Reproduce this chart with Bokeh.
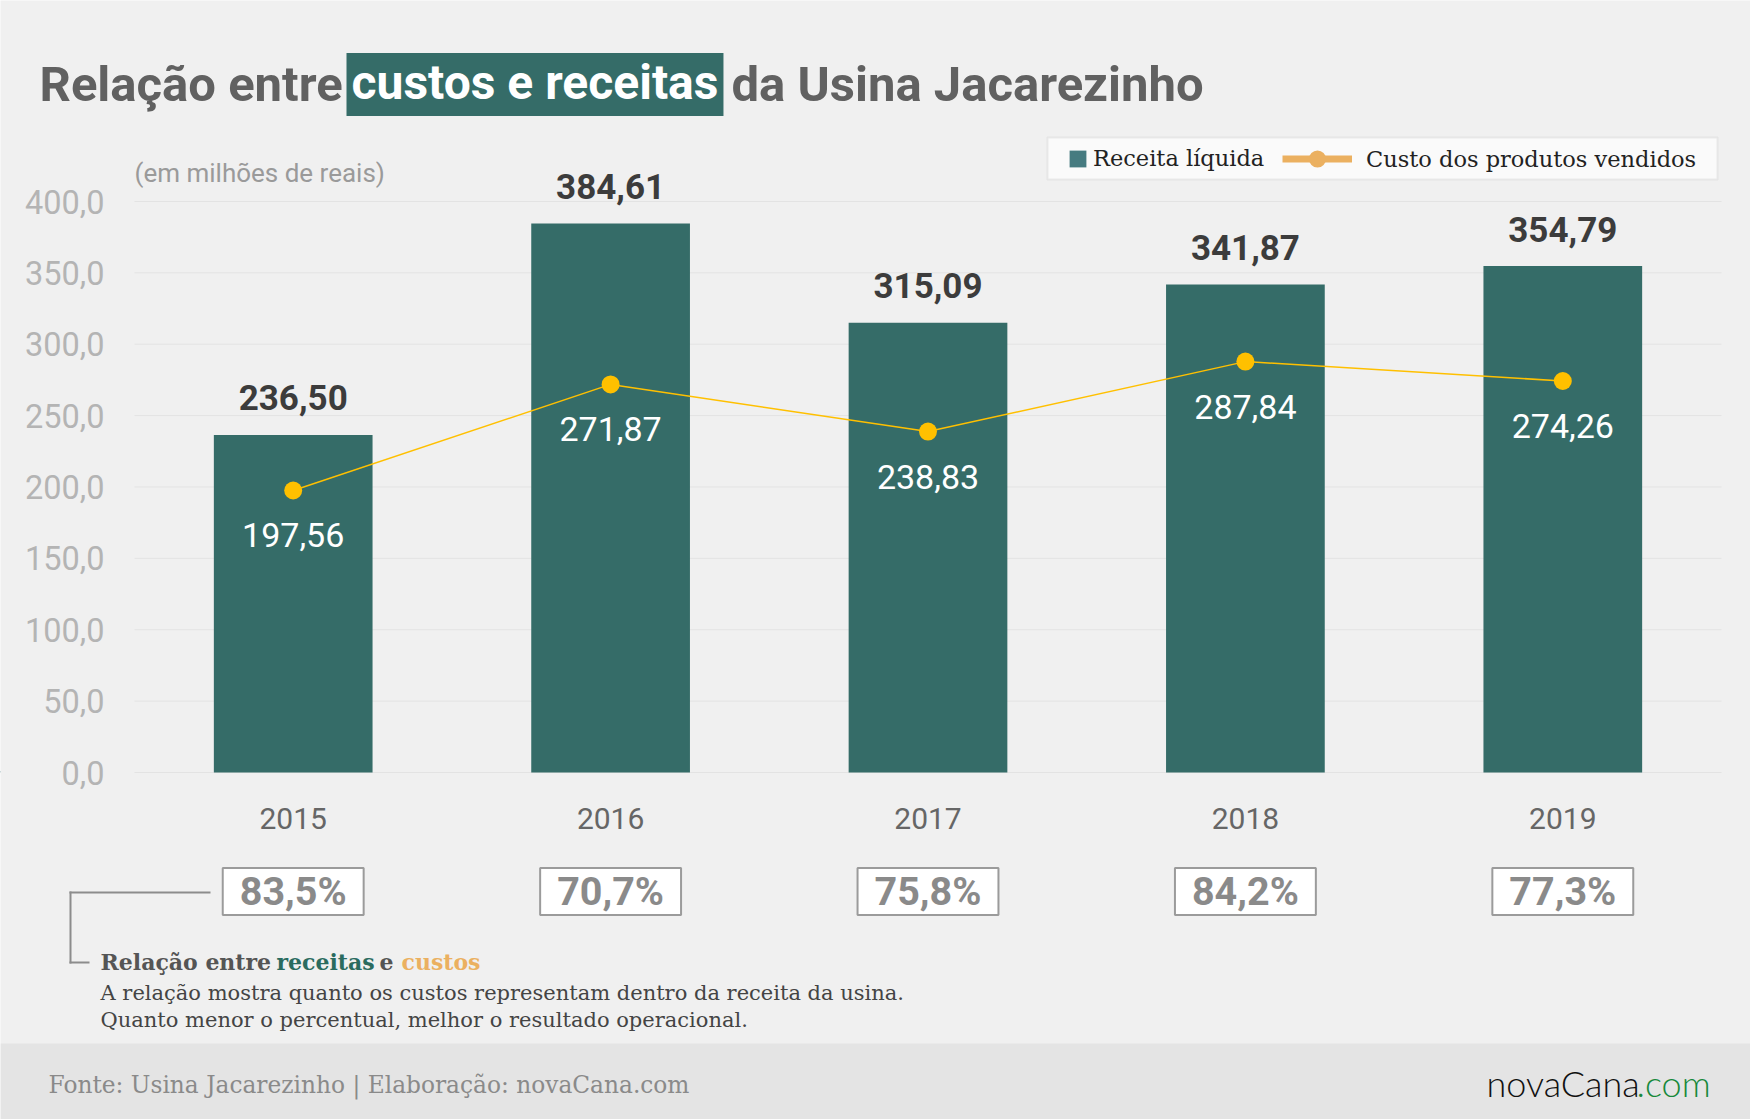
from bokeh.plotting import figure
from bokeh.models import Range1d, FixedTicker, Label, BoxAnnotation, Legend, LegendItem
from bokeh.core.properties import value
from bokeh.embed import file_html
from bokeh.resources import INLINE

years = ["2015", "2016", "2017", "2018", "2019"]
receita = [236.50, 384.61, 315.09, 341.87, 354.79]
custo = [197.56, 271.87, 238.83, 287.84, 274.26]
relacao = ["83,5%", "70,7%", "75,8%", "84,2%", "77,3%"]
y_ticks = [0, 50, 100, 150, 200, 250, 300, 350, 400]
y_tick_labels = ["0,0", "50,0", "100,0", "150,0", "200,0", "250,0", "300,0", "350,0", "400,0"]

xs = list(range(len(years)))
receita_txt = [f"{v:.2f}".replace(".", ",") for v in receita]
custo_txt = [f"{v:.2f}".replace(".", ",") for v in custo]

SANS = "Roboto"
SERIF = "DejaVu Serif"
TEAL = "#356c68"
GOLD = "#ffc000"
ORANGE = "#ebb060"

W, H = 1750, 1119
# plot area in page pixels: x -0.5 at 134, 4.5 at 1721; y 0 at 772, 400 at 201
PX_X = (1721 - 134) / 5.0
PX_Y = (772 - 201) / 400.0
x0 = -0.5 - 134 / PX_X
x1 = 4.5 + (W - 1721) / PX_X
y0 = -(H - 772) / PX_Y
y1 = 772 / PX_Y


def sy(py):
    return H - py


p = figure(width=W, height=H, x_range=Range1d(x0, x1), y_range=Range1d(y0, y1),
           output_backend="svg", toolbar_location=None, min_border=0)
p.background_fill_color = "#f0f0f0"
p.border_fill_color = "#f0f0f0"
p.outline_line_color = None
p.grid.visible = False

p.yaxis.ticker = FixedTicker(ticks=y_ticks)
p.yaxis.major_label_overrides = dict(zip(y_ticks, y_tick_labels))
p.yaxis.fixed_location = -0.5
p.xaxis.ticker = FixedTicker(ticks=xs)
p.xaxis.major_label_overrides = dict(zip(xs, years))
p.xaxis.fixed_location = 0

for ax in (p.xaxis[0], p.yaxis[0]):
    ax.axis_line_color = None
    ax.major_tick_line_color = None
    ax.minor_tick_line_color = None
    ax.major_tick_out = 0
    ax.major_tick_in = 0
    ax.major_label_text_font = SANS

p.yaxis.major_label_text_font_size = "32.5px"
p.yaxis.major_label_text_color = "#b4b4b4"
p.yaxis.major_label_standoff = 30
p.xaxis.major_label_text_font_size = "30px"
p.xaxis.major_label_text_color = "#666666"
p.xaxis.major_label_standoff = 35

# horizontal grid lines at the tick values
p.segment(x0=[-0.5] * len(y_ticks), x1=[4.5] * len(y_ticks), y0=y_ticks, y1=y_ticks,
          line_color="#e3e3e3", line_width=1, level="underlay")

# bars and cost line
p.vbar(x=xs, top=receita, width=0.5, fill_color=TEAL, line_color=None)
p.line(xs, custo, line_color=GOLD, line_width=1.5)
p.scatter(xs, custo, size=18, fill_color=GOLD, line_color=None)

p.text(x=xs, y=receita, text=receita_txt, text_align="center", text_baseline="middle",
       y_offset=-37, text_font=value(SANS), text_font_style="bold", text_font_size="35px",
       text_color="#3c3c3c")
p.text(x=xs, y=custo, text=custo_txt, text_align="center", text_baseline="middle",
       y_offset=45, text_font=value(SANS), text_font_size="34px", text_color="white")

# legend
p.add_layout(BoxAnnotation(left=1047, right=1717, top=sy(137), bottom=sy(179),
                           left_units="screen", right_units="screen", top_units="screen",
                           bottom_units="screen", fill_color="#fafafa", fill_alpha=1,
                           line_color="#c8c8c8", line_width=2))
leg_bar = p.vbar(x=[-10], top=[1], width=0.5, fill_color="#467b80", line_color=None)
leg_line = p.line(x=[-10, -9], y=[1, 1], line_color=ORANGE, line_width=7)
leg_dot = p.scatter(x=[-10], y=[1], size=17, fill_color=ORANGE, line_color=None)

legend_a = Legend(items=[LegendItem(label="Receita líquida", renderers=[leg_bar])],
                  location=(1067, sy(171)), glyph_width=21, glyph_height=21, label_height=21,
                  label_standoff=5)
legend_b = Legend(items=[LegendItem(label="Custo dos produtos vendidos", renderers=[leg_line, leg_dot])],
                  location=(1282, sy(180)), glyph_width=70, glyph_height=43, label_height=43,
                  label_standoff=14)
for lg in (legend_a, legend_b):
    lg.orientation = "horizontal"
    lg.padding = 0
    lg.margin = 0
    lg.spacing = 0
    lg.background_fill_alpha = 0
    lg.border_line_alpha = 0
    lg.label_text_font = SERIF
    lg.label_text_font_size = "22.5px"
    lg.label_text_color = "#222222"
    p.add_layout(lg)

# title
title_parts = [("Relação entre", 39, "#616161", None, "49px"),
               ("custos e receitas", 346, "white", TEAL, "48px"),
               ("da Usina Jacarezinho", 731, "#616161", None, "49px")]
for txt, px, col, bg, fs in title_parts:
    lab = Label(x=px, y=sy(84), x_units="screen", y_units="screen", text=txt,
                text_font=SANS, text_font_style="bold", text_font_size=fs, text_color=col,
                text_baseline="middle")
    if bg:
        lab.background_fill_color = bg
        lab.padding = dict(left=5, right=5, top=1, bottom=5)
    p.add_layout(lab)

p.add_layout(Label(x=134, y=sy(172), x_units="screen", y_units="screen",
                   text="(em milhões de reais)", text_font=SANS, text_font_size="26px",
                   text_color="#9a9a9a", text_baseline="middle"))

# ratio boxes below the years
for i, r in zip(xs, relacao):
    p.add_layout(Label(x=i, y=sy(891), x_units="data", y_units="screen", text=r,
                       text_align="center", text_baseline="middle", text_font=SANS,
                       text_font_style="bold", text_font_size="39.5px", text_color="#8a8a8a",
                       background_fill_color="white", border_line_color="#9b9b9b",
                       border_line_width=2, padding=dict(left=17, right=17, top=0, bottom=0)))

# bracket joining the first box to the note
for l, r, t, b in [(69, 210, 891, 893), (69, 71, 891, 963), (69, 89, 961, 963)]:
    p.add_layout(BoxAnnotation(left=l, right=r, top=sy(t), bottom=sy(b),
                               left_units="screen", right_units="screen", top_units="screen",
                               bottom_units="screen", fill_color="#8c8c8c", fill_alpha=1,
                               line_alpha=0))

note_parts = [("Relação entre", 100, "#555555"), ("receitas", 276, "#2a6b5f"),
              ("e", 379, "#555555"), ("custos", 401, ORANGE)]
for txt, px, col in note_parts:
    p.add_layout(Label(x=px, y=sy(961), x_units="screen", y_units="screen", text=txt,
                       text_font=SERIF, text_font_style="bold", text_font_size="22px",
                       text_color=col, text_baseline="middle"))
for txt, py in [("A relação mostra quanto os custos representam dentro da receita da usina.", 992),
                ("Quanto menor o percentual, melhor o resultado operacional.", 1019)]:
    p.add_layout(Label(x=100, y=sy(py), x_units="screen", y_units="screen", text=txt,
                       text_font=SERIF, text_font_size="21px", text_color="#444444",
                       text_baseline="middle"))

# footer band
p.add_layout(BoxAnnotation(left=0, right=W, top=sy(1043), bottom=0,
                           left_units="screen", right_units="screen", top_units="screen",
                           bottom_units="screen", fill_color="#e4e4e4", fill_alpha=1,
                           line_alpha=0, level="underlay"))
p.add_layout(Label(x=48, y=sy(1084), x_units="screen", y_units="screen",
                   text="Fonte: Usina Jacarezinho | Elaboração: novaCana.com",
                   text_font=SERIF, text_font_size="23.3px", text_color="#8a8a8a",
                   text_baseline="middle"))
p.add_layout(Label(x=1486, y=sy(1082), x_units="screen", y_units="screen", text="novaCana",
                   text_font="'Lato Light', Lato", text_font_size="36px", text_color="#111111",
                   text_baseline="middle"))
p.add_layout(Label(x=1636, y=sy(1082), x_units="screen", y_units="screen", text=".com",
                   text_font="'Lato Light', Lato", text_font_size="36px", text_color="#17893b",
                   text_baseline="middle"))

open("out.html", "w").write(file_html(p, INLINE))
